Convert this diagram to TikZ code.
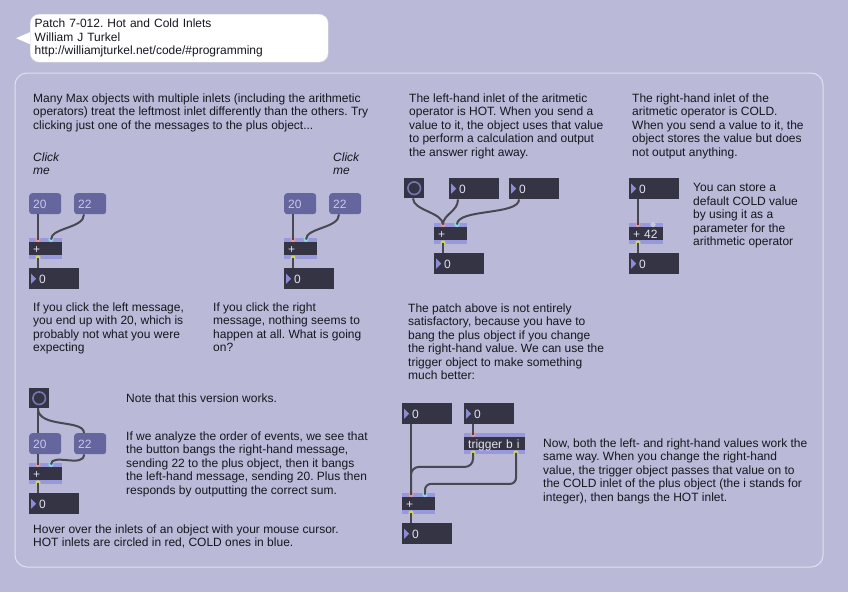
\documentclass[tikz,border=0pt]{standalone}
\usepackage{fontspec}
\newfontfamily\maxfont{Liberation Sans}
\newcommand\notefont{\maxfont\fontsize{12}{13.5}\selectfont}
\newcommand\boxfont{\maxfont\fontsize{12}{13.5}\selectfont}
\frenchspacing

\definecolor{patchbg}{RGB}{186,186,216}
\definecolor{panelline}{RGB}{224,224,240}
\definecolor{bubbleline}{RGB}{215,215,225}
\definecolor{boxdark}{RGB}{52,52,68}
\definecolor{msgfill}{RGB}{102,102,158}
\definecolor{msgtext}{RGB}{200,200,232}
\definecolor{stripfill}{RGB}{152,152,220}
\definecolor{trifill}{RGB}{140,140,212}
\definecolor{boxtext}{RGB}{225,225,238}
\definecolor{cablecol}{RGB}{72,72,82}
\definecolor{hotport}{RGB}{232,150,150}
\definecolor{coldport}{RGB}{140,215,225}
\definecolor{outport}{RGB}{205,210,110}
\definecolor{idleport}{RGB}{200,200,210}
\definecolor{bangring}{RGB}{118,118,178}
\definecolor{notetext}{RGB}{22,22,30}

\tikzset{
  note/.style={anchor=north west,yshift=8.7pt,inner sep=0pt,align=left,text=notetext,font=\notefont},
  bubble/.style={anchor=north west,fill=white,draw=bubbleline,rounded corners=9pt,text width=289pt,
    inner xsep=4.5pt,inner ysep=0pt,minimum height=48pt,align=left,font=\notefont,text=notetext},
  msgbox/.style={anchor=north west,fill=msgfill,rounded corners=3pt,text=msgtext,text width=#1,
    inner xsep=4pt,inner ysep=0pt,minimum height=21pt,text height=8.6pt,text depth=0pt,font=\boxfont,align=left},
  numbox/.style={anchor=north west,fill=boxdark,text=boxtext,text width=#1,
    inner xsep=4pt,inner ysep=0pt,minimum height=21pt,text height=8.6pt,text depth=0pt,font=\boxfont,align=left,
    execute at begin node=\hspace*{6pt},
    path picture={\fill[trifill] ([xshift=2pt,yshift=-5.5pt]path picture bounding box.north west)
      -- ++(5pt,-5pt) -- ++(-5pt,-5pt) -- cycle;}},
  objbox/.style={anchor=north west,fill=boxdark,text=boxtext,text width=#1,
    inner xsep=4pt,inner ysep=0pt,minimum height=21pt,text height=8.6pt,text depth=0pt,font=\boxfont,align=left,
    path picture={\fill[stripfill] (path picture bounding box.north west) rectangle ([yshift=-4pt]path picture bounding box.north east);
      \fill[stripfill] (path picture bounding box.south west) rectangle ([yshift=4pt]path picture bounding box.south east);}},
  bangbox/.style={anchor=north west,fill=boxdark,minimum size=20pt,inner sep=0pt,
    path picture={\draw[bangring,line width=1.6pt] (path picture bounding box.center) circle (6.3pt);}},
  cable/.style={draw=cablecol,line width=2pt},
  hot/.style={fill=hotport},
  cold/.style={fill=coldport},
  outlet/.style={fill=outport},
  idle/.style={fill=idleport}
}

\begin{document}
\begin{tikzpicture}[x=1pt,y=-1pt]
\fill[patchbg] (0,0) rectangle (848,592);
\draw[panelline,line width=1pt,rounded corners=12pt] (15,73) rectangle (823,567);

% title comment
\node[bubble] (title) at (30,14) {Patch 7-012. Hot and Cold Inlets\\William J Turkel\\http://williamjturkel.net/code/\#programming};
\fill[white] ([yshift=6pt]title.west) -- ([xshift=-14pt]title.west) -- ([yshift=-6pt]title.west) -- cycle;

% texts
\node[note] (intro) at (33,102) {Many Max objects with multiple inlets (including the arithmetic\\operators) treat the leftmost inlet differently than the others. Try\\clicking just one of the messages to the plus object...};
\node[note,font=\notefont\itshape] (clickA) at (33,161) {Click\\me};
\node[note,font=\notefont\itshape] (clickB) at (333,161) {Click\\me};
\node[note] (leftnote) at (33,311) {If you click the left message,\\you end up with 20, which is\\probably not what you were\\expecting};
\node[note] (rightnote) at (213,311) {If you click the right\\message, nothing seems to\\happen at all. What is going\\on?};
\node[note] (hotnote) at (409,102) {The left-hand inlet of the aritmetic\\operator is HOT. When you send a\\value to it, the object uses that value\\to perform a calculation and output\\the answer right away.};
\node[note] (coldnote) at (632,102) {The right-hand inlet of the\\aritmetic operator is COLD.\\When you send a value to it, the\\object stores the value but does\\not output anything.};
\node[note] (defaultnote) at (693,192) {You can store a\\default COLD value\\by using it as a\\parameter for the\\arithmetic operator};
\node[note] (patchnote) at (408,312) {The patch above is not entirely\\satisfactory, because you have to\\bang the plus object if you change\\the right-hand value. We can use the\\trigger object to make something\\much better:};
\node[note] (trignote) at (543,447) {Now, both the left- and right-hand values work the\\same way. When you change the right-hand\\value, the trigger object passes that value on to\\the COLD inlet of the plus object (the i stands for\\integer), then bangs the HOT inlet.};
\node[note] (worksnote) at (126,402) {Note that this version works.};
\node[note] (ordernote) at (126,440) {If we analyze the order of events, we see that\\the button bangs the right-hand message,\\sending 22 to the plus object, then it bangs\\the left-hand message, sending 20. Plus then\\responds by outputting the correct sum.};
\node[note] (hovernote) at (33,533) {Hover over the inlets of an object with your mouse cursor.\\HOT inlets are circled in red, COLD ones in blue.};

% click the left one
\node[msgbox=24pt] (msgA20) at (29,193) {20};
\node[msgbox=24pt] (msgA22) at (74,193) {22};
\node[objbox=25pt] (addA) at (29,238) {+};
\node[numbox=42pt] (numA) at (29,268) {0};

% click the right one
\node[msgbox=24pt] (msgB20) at (284,193) {20};
\node[msgbox=24pt] (msgB22) at (329,193) {22};
\node[objbox=25pt] (addB) at (284,238) {+};
\node[numbox=42pt] (numB) at (284,268) {0};

% hot inlet
\node[bangbox] (bangH) at (404,178) {};
\node[numbox=42pt] (numH1) at (449,178) {0};
\node[numbox=42pt] (numH2) at (509,178) {0};
\node[objbox=25pt] (addH) at (434,223) {+};
\node[numbox=42pt] (numH3) at (434,253) {0};

% cold inlet
\node[numbox=42pt] (numC1) at (629,178) {0};
\node[objbox=26pt] (addC) at (629,223) {+ 42};
\node[numbox=42pt] (numC2) at (629,253) {0};

% trigger
\node[numbox=42pt] (numT1) at (402,403) {0};
\node[numbox=42pt] (numT2) at (464,403) {0};
\node[objbox=53pt] (trig) at (464,433) {trigger b i};
\node[objbox=25pt] (addT) at (402,493) {+};
\node[numbox=42pt] (numT3) at (402,523) {0};

% button version
\node[bangbox] (bangW) at (29,388) {};
\node[msgbox=24pt] (msgW20) at (29,433) {20};
\node[msgbox=24pt] (msgW22) at (74,433) {22};
\node[objbox=25pt] (addW) at (29,463) {+};
\node[numbox=42pt] (numW) at (29,493) {0};

% ports
\fill[hot] ([xshift=9pt,yshift=-1.5pt]addA.north west) circle (2.6pt);
\fill[cold] ([xshift=22pt,yshift=-1.5pt]addA.north west) circle (2.6pt);
\fill[outlet] ([xshift=9pt,yshift=1.5pt]addA.south west) circle (2.6pt);
\fill[hot] ([xshift=9pt,yshift=-1.5pt]addB.north west) circle (2.6pt);
\fill[cold] ([xshift=22pt,yshift=-1.5pt]addB.north west) circle (2.6pt);
\fill[outlet] ([xshift=9pt,yshift=1.5pt]addB.south west) circle (2.6pt);
\fill[hot] ([xshift=9pt,yshift=-1.5pt]addH.north west) circle (2.6pt);
\fill[cold] ([xshift=23pt,yshift=-1.5pt]addH.north west) circle (2.6pt);
\fill[outlet] ([xshift=9pt,yshift=1.5pt]addH.south west) circle (2.6pt);
\fill[hot] ([xshift=9pt,yshift=-1.5pt]addC.north west) circle (2.6pt);
\fill[idle] ([xshift=24pt,yshift=-1.5pt]addC.north west) circle (2.6pt);
\fill[outlet] ([xshift=9pt,yshift=1.5pt]addC.south west) circle (2.6pt);
\fill[hot] ([xshift=9pt,yshift=-1.5pt]trig.north west) circle (2.6pt);
\fill[outlet] ([xshift=9pt,yshift=1.5pt]trig.south west) circle (2.6pt);
\fill[outlet] ([xshift=52pt,yshift=1.5pt]trig.south west) circle (2.6pt);
\fill[hot] ([xshift=9pt,yshift=-1.5pt]addT.north west) circle (2.6pt);
\fill[cold] ([xshift=23pt,yshift=-1.5pt]addT.north west) circle (2.6pt);
\fill[outlet] ([xshift=9pt,yshift=1.5pt]addT.south west) circle (2.6pt);
\fill[hot] ([xshift=9pt,yshift=-1.5pt]addW.north west) circle (2.6pt);
\fill[cold] ([xshift=22pt,yshift=-1.5pt]addW.north west) circle (2.6pt);
\fill[outlet] ([xshift=9pt,yshift=1.5pt]addW.south west) circle (2.6pt);

% cables
\draw[cable] ([xshift=9pt]msgA20.south west) -- ([xshift=9pt,yshift=-1.5pt]addA.north west);
\draw[cable] ([xshift=10pt]msgA22.south west) .. controls +(0,14) and +(0,-12) .. ([xshift=22pt,yshift=-1.5pt]addA.north west);
\draw[cable] ([xshift=9pt,yshift=1.5pt]addA.south west) -- ([xshift=9pt]numA.north west);

\draw[cable] ([xshift=9pt]msgB20.south west) -- ([xshift=9pt,yshift=-1.5pt]addB.north west);
\draw[cable] ([xshift=10pt]msgB22.south west) .. controls +(0,14) and +(0,-12) .. ([xshift=22pt,yshift=-1.5pt]addB.north west);
\draw[cable] ([xshift=9pt,yshift=1.5pt]addB.south west) -- ([xshift=9pt]numB.north west);

\draw[cable] ([xshift=9pt]bangH.south west) .. controls +(0,12) and +(0,-12) .. ([xshift=9pt,yshift=-1.5pt]addH.north west);
\draw[cable] ([xshift=9pt]numH1.south west) .. controls +(0,12) and +(0,-10) .. ([xshift=9pt,yshift=-1.5pt]addH.north west);
\draw[cable] ([xshift=10pt]numH2.south west) .. controls +(0,16) and +(0,-16) .. ([xshift=23pt,yshift=-1.5pt]addH.north west);
\draw[cable] ([xshift=9pt,yshift=1.5pt]addH.south west) -- ([xshift=9pt]numH3.north west);

\draw[cable] ([xshift=9pt]numC1.south west) -- ([xshift=9pt,yshift=-1.5pt]addC.north west);
\draw[cable] ([xshift=9pt,yshift=1.5pt]addC.south west) -- ([xshift=9pt]numC2.north west);

\draw[cable] ([xshift=9pt]numT1.south west) -- ([xshift=9pt,yshift=-1.5pt]addT.north west);
\draw[cable] ([xshift=9pt]numT2.south west) -- ([xshift=9pt,yshift=-1.5pt]trig.north west);
\draw[cable,rounded corners=8pt] ([xshift=9pt,yshift=1.5pt]trig.south west) -- ++(0,14) -| ([xshift=9pt,yshift=-1.5pt]addT.north west);
\draw[cable,rounded corners=6pt] ([xshift=52pt,yshift=1.5pt]trig.south west) -- ++(0,31) -| ([xshift=23pt,yshift=-1.5pt]addT.north west);
\draw[cable] ([xshift=9pt,yshift=1.5pt]addT.south west) -- ([xshift=9pt]numT3.north west);

\draw[cable] ([xshift=9pt]bangW.south west) -- ([xshift=9pt]msgW20.north west);
\draw[cable] ([xshift=9pt]bangW.south west) .. controls +(0,20) and +(0,-14) .. ([xshift=10pt]msgW22.north west);
\draw[cable] ([xshift=9pt]msgW20.south west) -- ([xshift=9pt,yshift=-1.5pt]addW.north west);
\draw[cable] ([xshift=10pt]msgW22.south west) .. controls +(0,14) and +(0,-12) .. ([xshift=22pt,yshift=-1.5pt]addW.north west);
\draw[cable] ([xshift=9pt,yshift=1.5pt]addW.south west) -- ([xshift=9pt]numW.north west);
\end{tikzpicture}
\end{document}
